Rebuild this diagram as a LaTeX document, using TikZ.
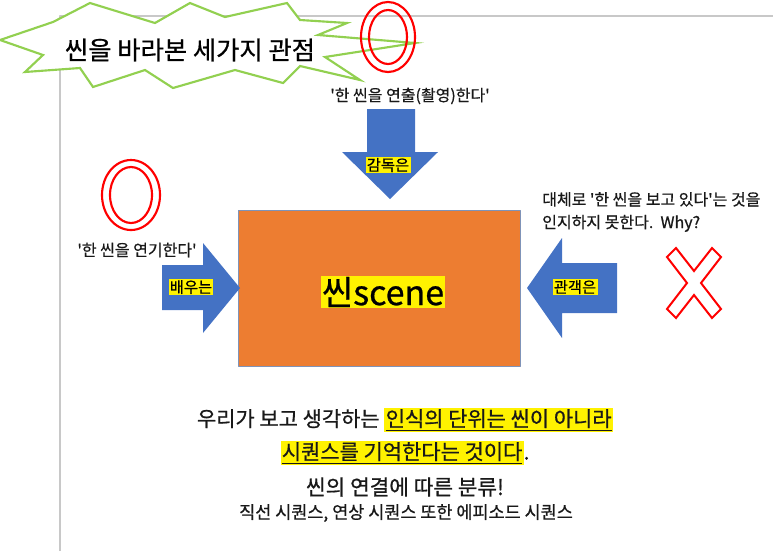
\documentclass[tikz,border=0pt]{standalone}
\usepackage{fontspec}
\setmainfont{Noto Sans CJK KR}[Ligatures=TeXOff, FakeBold=0.7]
\definecolor{arrowblue}{HTML}{4472C4}
\definecolor{sceneorange}{HTML}{ED7D31}
\definecolor{sceneedge}{HTML}{7F93B8}
\definecolor{burstgreen}{HTML}{92D050}
\definecolor{pagegray}{HTML}{C8C8C8}
\newcommand{\hlul}[1]{{\setlength{\fboxsep}{1pt}\colorbox{yellow}{\underline{#1}}}}
\tikzset{
  blockarrow/.style={fill=arrowblue},
  hilite/.style={fill=yellow, inner sep=1pt, font=\fontsize{11.5}{13}\selectfont},
  quote/.style={text=black!90, inner sep=0pt, font=\fontsize{12}{17}\selectfont},
  ring/.style={draw=red, line width=1.6pt},
  bottomline/.style={text=black!90, inner sep=0pt, font=\fontsize{15.7}{17}\selectfont}
}
\begin{document}
\begin{tikzpicture}[x=0.75pt,y=-0.75pt, line join=round]
\useasboundingbox (0,0) rectangle (773,551);
% page edge
\draw[pagegray, line width=0.8pt] (60,551)--(60,16)--(773,16);
% title burst
\draw[burstgreen, fill=white, line width=1.6pt, line join=miter] (90,3)--(155,23)--(190,3)--(225,17)--(287,3)--(300,20)--(347,23)--(318,35)--(415,43)--(325,57)--(360,80)--(300,66)--(283,83)--(235,70)--(173,88)--(145,70)--(93,87)--(80,68)--(25,72)--(43,55)--(0,40)--(53,22)--cycle;
\node (title) at (190,50) {\fontsize{19}{22}\selectfont 씬을 바라본 세가지 관점};
\draw[ring] (388,37) ellipse [x radius=27, y radius=35];
\draw[ring] (388,37) ellipse [x radius=19, y radius=27];
% the scene
\draw[sceneedge, fill=sceneorange, line width=0.6pt] (238,210) rectangle (520,366);
\node (scene) at (383,292) [fill=yellow, inner sep=1pt, font=\fontsize{25.5}{28}\selectfont] {씬scene};
% director
\node (directortext) at (410,96) [quote] {'한 씬을 연출(촬영)한다'};
\fill[blockarrow] (367,109)--(415,109)--(415,152)--(438,152)--(390,199)--(342,152)--(367,152)--cycle;
\node (director) at (388,165) [hilite] {감독은};
% actor
\draw[ring] (131,195) ellipse [x radius=29, y radius=35];
\draw[ring] (131,195) ellipse [x radius=21, y radius=28];
\node (actortext) at (137,250) [quote] {'한 씬을 연기한다'};
\fill[blockarrow] (162,265)--(203,265)--(203,243)--(240,288)--(203,333)--(203,310)--(162,310)--cycle;
\node (actor) at (191,287) [hilite] {배우는};
% audience
\node (audiencetext) at (542,212) [quote, anchor=west, align=left] {대체로 '한 씬을 보고 있다'는 것을\\인지하지 못한다.\ \ Why?};
\fill[blockarrow] (617,263)--(562,263)--(562,238)--(527,288)--(562,338)--(562,313)--(617,313)--cycle;
\node (audience) at (575,287) [hilite] {관객은};
\draw[red, fill=white, line width=1.5pt, line join=miter] (676,248)--(694,271)--(712,248)--(721,257)--(701,283)--(721,309)--(712,318)--(694,295)--(676,318)--(667,309)--(687,283)--(667,257)--cycle;
% bottom text
\node (unit) at (405,420) [bottomline] {우리가 보고 생각하는 \hlul{인식의 단위는 씬이 아니라}};
\node (sequence) at (405,453) [bottomline] {\hlul{시퀀스를 기억한다는 것이다}.};
\node (kinds) at (405,487) [bottomline, font=\fontsize{16}{18}\selectfont] {씬의 연결에 따른 분류!};
\node (kindlist) at (406,513) [bottomline, font=\fontsize{13.1}{15}\selectfont] {직선 시퀀스, 연상 시퀀스 또한 에피소드 시퀀스};
\end{tikzpicture}
\end{document}
